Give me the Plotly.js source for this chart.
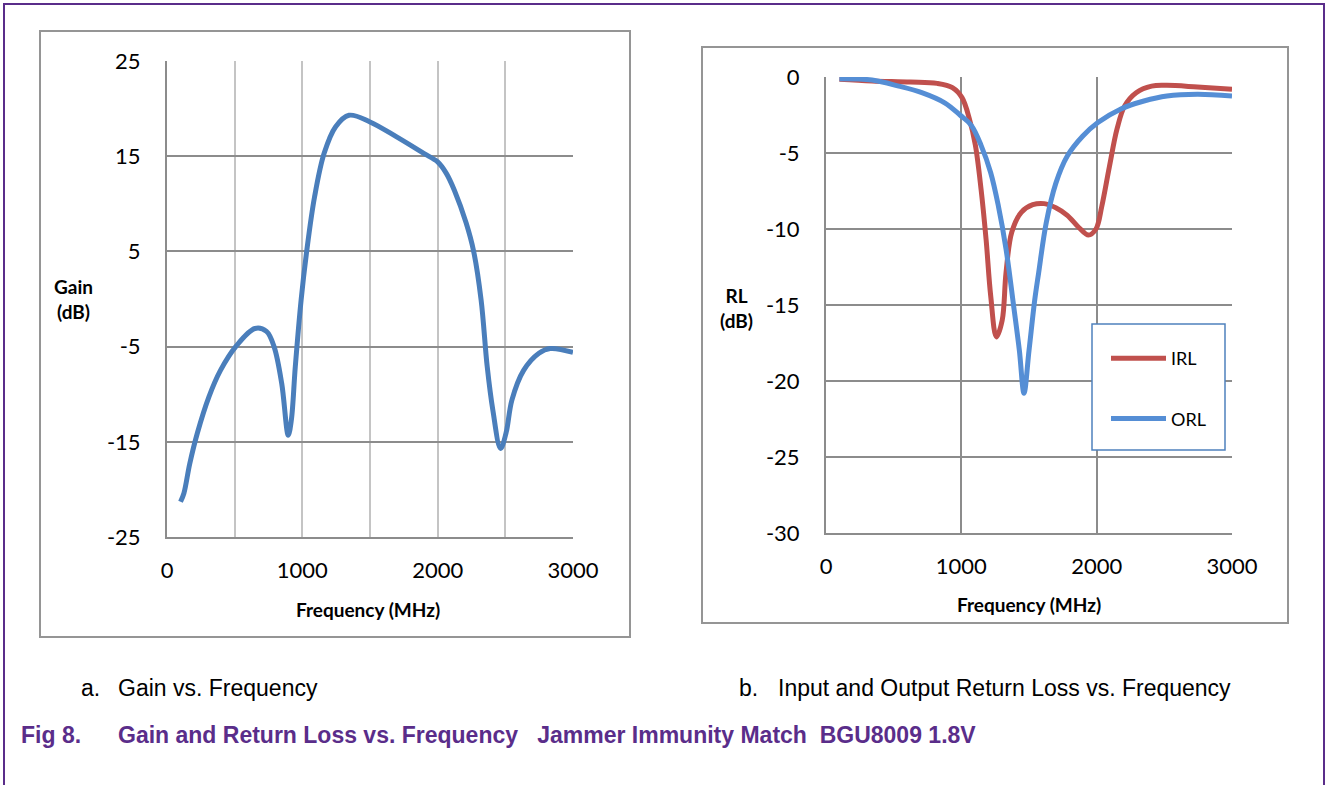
<!DOCTYPE html>
<html>
<head>
<meta charset="utf-8">
<script src="https://cdn.plot.ly/plotly-3.0.1.min.js"></script>
<style>
html,body{margin:0;padding:0;background:#fff;}
#chart{width:1326px;height:785px;}
</style>
</head>
<body>
<div id="chart"></div>
<script>
// ---- data ----
const gainFreq = [100,125,168,224,309,395,508,650,735,791,848,896,919,948,991,1033,1090,1161,1246,1345,1500,1700,1897,2000,2064,2124,2210,2266,2321,2366,2408,2465,2505,2549,2635,2748,2832,3000];
const gainDb   = [-21.3,-20.4,-17.3,-14.1,-10.3,-7.5,-5.0,-3.1,-3.4,-5.0,-8.9,-14.3,-12.7,-7.1,-0.1,5.1,10.7,15.3,18.1,19.3,18.6,17.0,15.3,14.4,13.2,11.4,8.0,5.0,-0.1,-7.1,-11.7,-15.7,-14.1,-10.6,-7.5,-5.7,-5.2,-5.6];

const irlFreq = [99,340,623,821,934,1005,1061,1104,1146,1183,1217,1259,1302,1330,1373,1443,1528,1613,1698,1783,1868,1939,1995,2038,2094,2151,2207,2292,2406,2519,2745,3000];
const irlDb   = [-0.15,-0.26,-0.33,-0.42,-0.70,-1.36,-2.8,-4.5,-7.4,-10.7,-14.4,-17.1,-16.0,-12.9,-10.2,-8.9,-8.4,-8.33,-8.6,-9.1,-9.9,-10.4,-10.0,-8.5,-5.9,-3.4,-1.9,-1.03,-0.6,-0.55,-0.66,-0.81];

const orlFreq = [99,340,538,708,877,990,1075,1146,1217,1274,1330,1387,1429,1463,1500,1542,1571,1627,1698,1783,1896,2009,2179,2349,2519,2745,3000];
const orlDb   = [-0.11,-0.2,-0.6,-1.03,-1.7,-2.5,-3.2,-4.5,-6.3,-8.5,-11.3,-15.1,-18.0,-20.8,-18.0,-14.7,-12.9,-9.6,-7.0,-5.2,-3.9,-3.0,-2.1,-1.58,-1.25,-1.14,-1.25];

const seriesNames = ['IRL','ORL'];

const freqTickVals = [0,1000,2000,3000];
const freqTickText = ['0','1000','2000','3000'];
const gainTickVals = [-25,-15,-5,5,15,25];
const gainTickText = ['-25','-15','-5','5','15','25'];
const rlTickVals = [-30,-25,-20,-15,-10,-5,0];
const rlTickText = ['-30','-25','-20','-15','-10','-5','0'];

// ---- layout helpers ----
const W = 1326, H = 785;
const fx = x => x / W;
const fy = y => 1 - y / H;

const tickFont = {family: 'Lato, "Open Sans", sans-serif', size: 22, color: '#000'};
const titleFont = {family: 'Lato, "Open Sans", sans-serif', size: 19, color: '#000'};
const capFont = {family: '"Liberation Sans", Arial, sans-serif', size: 23, color: '#000'};
const figFont = {family: '"Liberation Sans", Arial, sans-serif', size: 23, color: '#5a2d8a'};

const traces = [
  {x: gainFreq, y: gainDb, xaxis: 'x', yaxis: 'y', type: 'scatter', mode: 'lines',
   line: {color: '#4A7EBB', width: 5, shape: 'spline', smoothing: 1}, showlegend: false, name: 'Gain'},
  {x: irlFreq, y: irlDb, xaxis: 'x2', yaxis: 'y2', type: 'scatter', mode: 'lines',
   line: {color: '#C0504D', width: 5, shape: 'spline', smoothing: 1}, name: seriesNames[0], legendgroup: 'g1'},
  {x: orlFreq, y: orlDb, xaxis: 'x2', yaxis: 'y2', type: 'scatter', mode: 'lines',
   line: {color: '#558ED5', width: 5, shape: 'spline', smoothing: 1}, name: seriesNames[1], legendgroup: 'g2'}
];

const commonX = {
  range: [0, 3000], tickmode: 'array', tickvals: freqTickVals, ticktext: freqTickText,
  tickfont: tickFont, ticks: '', zeroline: false, showline: true, linewidth: 2,
  ticklabelstandoff: 13, fixedrange: true
};
const commonY = {
  tickmode: 'array', tickfont: tickFont, ticks: '', zeroline: false, showline: true, linewidth: 2,
  ticklabelstandoff: 20, fixedrange: true
};

function ann(text, x, y, font, xanchor) {
  return {text: text, x: fx(x), y: fy(y), xref: 'paper', yref: 'paper', showarrow: false,
          xanchor: xanchor || 'center', yanchor: 'middle', font: font, align: 'center'};
}

const layout = {
  width: W, height: H,
  margin: {l: 0, r: 0, t: 0, b: 0},
  paper_bgcolor: '#fff', plot_bgcolor: '#fff',
  showlegend: true,
  xaxis: Object.assign({}, commonX, {
    domain: [fx(167), fx(573)], anchor: 'y',
    gridcolor: '#c4c4c4', gridwidth: 2, linecolor: '#8c8c8c',
    minor: {dtick: 500, tick0: 0, showgrid: true, gridcolor: '#c4c4c4', gridwidth: 2, ticks: ''}
  }),
  yaxis: Object.assign({}, commonY, {
    domain: [fy(537), fy(61)], anchor: 'x', range: [-25, 25],
    tickvals: gainTickVals, ticktext: gainTickText,
    gridcolor: '#8c8c8c', gridwidth: 2, linecolor: '#8c8c8c'
  }),
  xaxis2: Object.assign({}, commonX, {
    domain: [fx(826), fx(1232)], anchor: 'y2',
    gridcolor: '#8c8c8c', gridwidth: 2, linecolor: '#8c8c8c'
  }),
  yaxis2: Object.assign({}, commonY, {
    domain: [fy(533), fy(77)], anchor: 'x2', range: [-30, 0],
    tickvals: rlTickVals, ticktext: rlTickText,
    gridcolor: '#8c8c8c', gridwidth: 2, linecolor: '#8c8c8c'
  }),
  legend: {
    x: fx(1106), y: fy(340), xanchor: 'left', yanchor: 'top',
    bgcolor: 'rgba(0,0,0,0)', borderwidth: 0,
    font: {family: 'Lato, "Open Sans", sans-serif', size: 18, color: '#000'},
    tracegroupgap: 34, itemwidth: 55
  },
  shapes: [
    {type: 'path', xref: 'paper', yref: 'paper',
     path: `M ${fx(4)} ${fy(785)} L ${fx(4)} ${fy(4)} L ${fx(1324)} ${fy(4)} L ${fx(1324)} ${fy(785)}`,
     line: {color: '#5a2d8a', width: 2}},
    {type: 'rect', xref: 'paper', yref: 'paper', x0: fx(40), x1: fx(630), y0: fy(637), y1: fy(31),
     line: {color: '#959595', width: 2}},
    {type: 'rect', xref: 'paper', yref: 'paper', x0: fx(702), x1: fx(1288), y0: fy(623), y1: fy(47),
     line: {color: '#959595', width: 2}},
    {type: 'rect', xref: 'paper', yref: 'paper', x0: fx(1092), x1: fx(1225), y0: fy(450), y1: fy(324),
     line: {color: '#4F81BD', width: 1.5}, fillcolor: '#fff', layer: 'above'}
  ],
  annotations: [
    ann('<b>Gain</b><br><b>(dB)</b>', 73, 299, titleFont),
    ann('<b>RL</b><br><b>(dB)</b>', 736, 308, titleFont),
    ann('<b>Frequency (MHz)</b>', 368, 609, titleFont),
    ann('<b>Frequency (MHz)</b>', 1029, 604, titleFont),
    ann('a.', 79, 688, capFont, 'left'),
    ann('Gain vs. Frequency', 116, 688, capFont, 'left'),
    ann('b.', 737, 688, capFont, 'left'),
    ann('Input and Output Return Loss vs. Frequency', 776, 688, capFont, 'left'),
    ann('<b>Fig 8.</b>', 19, 735, figFont, 'left'),
    ann('<b>Gain and Return Loss vs. Frequency   Jammer Immunity Match  BGU8009 1.8V</b>', 116, 735, figFont, 'left')
  ]
};

Plotly.newPlot('chart', traces, layout, {staticPlot: true, displayModeBar: false});
</script>
</body>
</html>
